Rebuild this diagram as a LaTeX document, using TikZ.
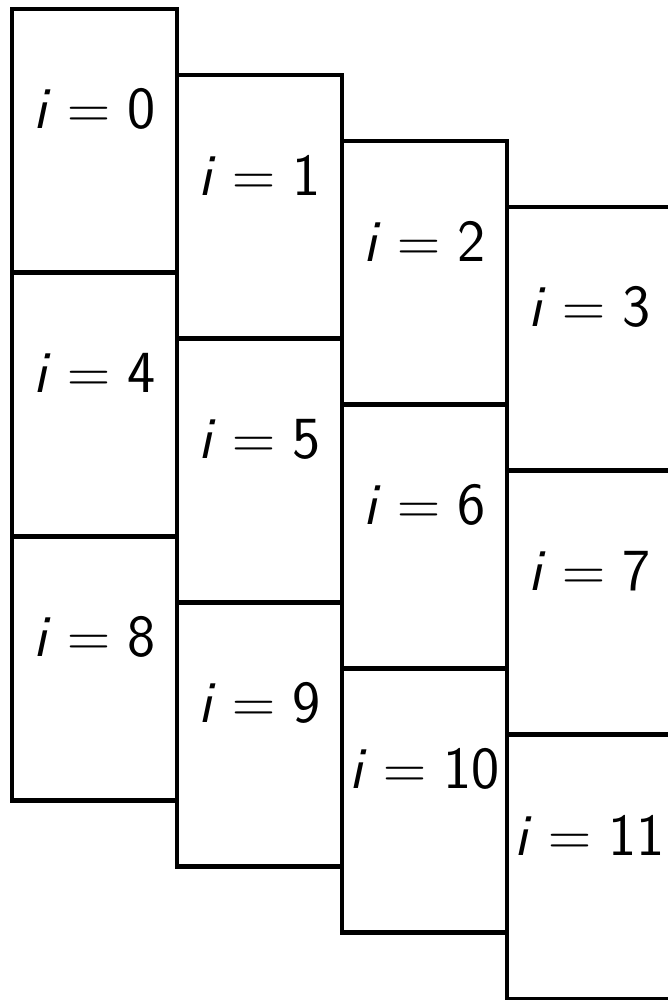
\documentclass[tikz,border=0pt]{standalone}
\usepackage{fix-cm}
\begin{document}
\begin{tikzpicture}[
    x=0.02cm, y=-0.02cm,
    blocco/.style={draw=black, line width=2.8pt, minimum width=3.3cm,
                   minimum height=5.28cm, inner sep=0pt, outer sep=0pt,
                   anchor=north west},
    et/.style={font=\fontsize{34}{40}\selectfont\sffamily, inner sep=0pt},
  ]

  % ---- geometria ------------------------------------------------------------
  % quadro 668 x 1000 (unita' = pixel);  blocchi 165 x 264;
  % colonna c = n mod 4 in x = 12 + 165 c;  riga r = n div 4,
  % spostata verso il basso di 66 c
  \useasboundingbox (0,0) rectangle (668,1000);
  \clip (0,0) rectangle (668,1000);

  % ---- i dodici blocchi con l'indice ---------------------------------------
  \foreach \n in {0,...,11}{
    \pgfmathtruncatemacro{\c}{mod(\n,4)}
    \pgfmathtruncatemacro{\r}{div(\n,4)}
    \node[blocco] (b\n) at ({12+165*\c},{9+66*\c+264*\r}) {};
    \node[et] (l\n) at ([yshift=-2cm]b\n.north) {\textit{i}${}={}$\n};
  }

\end{tikzpicture}
\end{document}
